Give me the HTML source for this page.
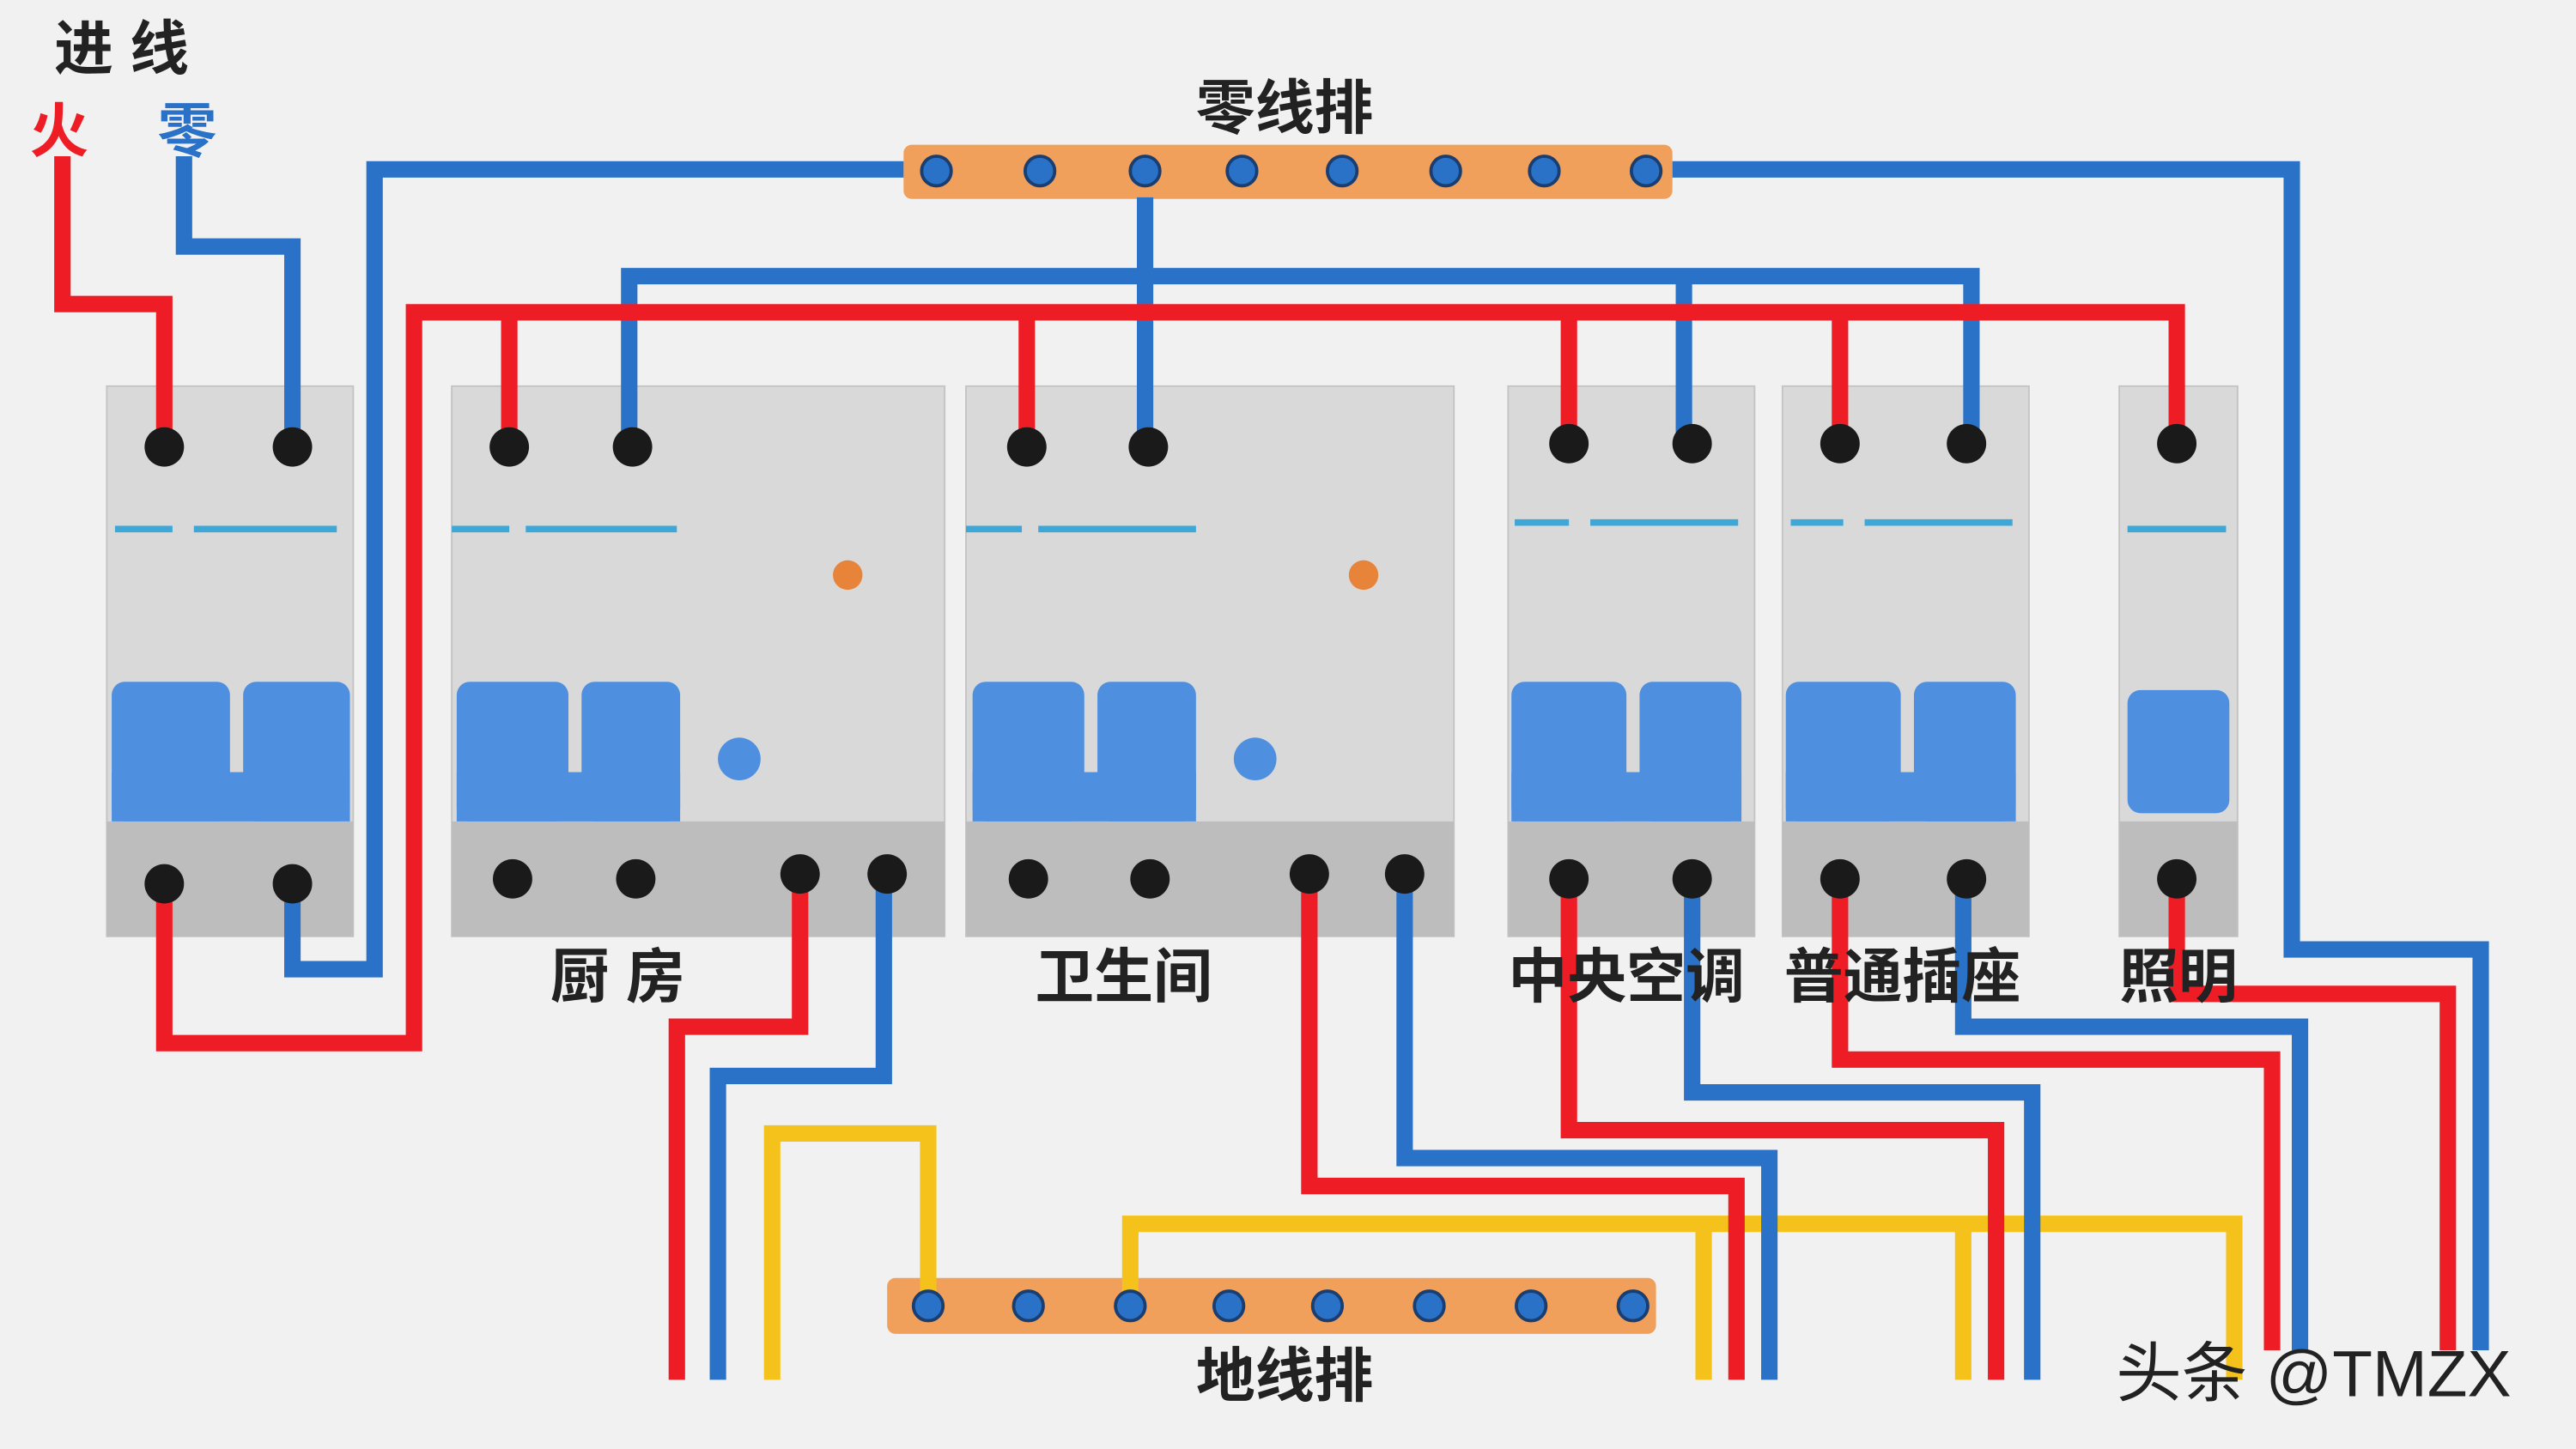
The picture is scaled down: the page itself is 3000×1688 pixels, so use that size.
<!DOCTYPE html>
<html><head><meta charset="utf-8"><style>
html,body{margin:0;padding:0;background:#f1f1f1;}
svg{display:block;}
text{font-family:"Liberation Sans","Noto Sans CJK SC",sans-serif;font-weight:bold;}
</style></head><body>
<svg width="3000" height="1688" viewBox="0 0 1568 882" xmlns="http://www.w3.org/2000/svg">
<rect width="1568" height="882" fill="#f1f1f1"/>
<g fill="#d9d9d9" stroke="#c4c4c4">
<rect x="65" y="235" width="150" height="335"/>
<rect x="275" y="235" width="300" height="335"/>
<rect x="588" y="235" width="297" height="335"/>
<rect x="918" y="235" width="150" height="335"/>
<rect x="1085" y="235" width="150" height="335"/>
<rect x="1290" y="235" width="72" height="335"/>
</g>
<g fill="#bdbdbd">
<rect x="65" y="500" width="150" height="70"/>
<rect x="275" y="500" width="300" height="70"/>
<rect x="588" y="500" width="297" height="70"/>
<rect x="918" y="500" width="150" height="70"/>
<rect x="1085" y="500" width="150" height="70"/>
<rect x="1290" y="500" width="72" height="70"/>
</g>
<g stroke="#3da8d8" stroke-width="4">
<line x1="70" y1="322" x2="105" y2="322"/><line x1="118" y1="322" x2="205" y2="322"/>
<line x1="275" y1="322" x2="310" y2="322"/><line x1="320" y1="322" x2="412" y2="322"/>
<line x1="588" y1="322" x2="622" y2="322"/><line x1="632" y1="322" x2="728" y2="322"/>
<line x1="922" y1="318" x2="955" y2="318"/><line x1="968" y1="318" x2="1058" y2="318"/>
<line x1="1090" y1="318" x2="1122" y2="318"/><line x1="1135" y1="318" x2="1225" y2="318"/>
<line x1="1295" y1="322" x2="1355" y2="322"/>
</g>
<g fill="#4f8fe0">
<rect x="68" y="415" width="72" height="85" rx="8"/><rect x="148" y="415" width="65" height="85" rx="8"/>
<rect x="278" y="415" width="68" height="85" rx="8"/><rect x="354" y="415" width="60" height="85" rx="8"/>
<rect x="592" y="415" width="68" height="85" rx="8"/><rect x="668" y="415" width="60" height="85" rx="8"/>
<rect x="920" y="415" width="70" height="85" rx="8"/><rect x="998" y="415" width="62" height="85" rx="8"/>
<rect x="1087" y="415" width="70" height="85" rx="8"/><rect x="1165" y="415" width="62" height="85" rx="8"/>
<rect x="1295" y="420" width="62" height="75" rx="8"/>
<circle cx="450" cy="462" r="13"/><circle cx="764" cy="462" r="13"/>
<rect x="68" y="470" width="145" height="30"/><rect x="278" y="470" width="136" height="30"/>
<rect x="592" y="470" width="136" height="30"/><rect x="920" y="470" width="140" height="30"/>
<rect x="1087" y="470" width="140" height="30"/>
</g>
<circle cx="516" cy="350" r="9" fill="#e8843a"/><circle cx="830" cy="350" r="9" fill="#e8843a"/>
<rect x="550" y="88" width="468" height="33" rx="5" fill="#f0a05a"/>
<rect x="540" y="778" width="468" height="34" rx="5" fill="#f0a05a"/>
<g fill="none" stroke-width="10" stroke-linejoin="miter">
<g stroke="#f4c21a">
<polyline points="470,840 470,690 565,690 565,790"/>
<polyline points="688,790 688,745 1360,745 1360,840"/>
<polyline points="1037,745 1037,840"/>
<polyline points="1195,745 1195,840"/>
</g>
<g stroke="#2a72c8">
<polyline points="112,95 112,150 178,150 178,270"/>
<polyline points="178,535 178,590 228,590 228,103 550,103"/>
<polyline points="1018,103 1395,103 1395,578 1510,578 1510,822"/>
<polyline points="697,120 697,270"/>
<polyline points="383,270 383,168 1200,168 1200,270"/>
<polyline points="1025,168 1025,270"/>
<polyline points="538,535 538,655 437,655 437,840"/>
<polyline points="855,535 855,705 1077,705 1077,840"/>
<polyline points="1030,535 1030,665 1237,665 1237,840"/>
<polyline points="1195,535 1195,625 1400,625 1400,822"/>
</g>
<g stroke="#ee1c25">
<polyline points="38,95 38,185 100,185 100,270"/>
<polyline points="100,535 100,635 252,635 252,190 1325,190 1325,270"/>
<polyline points="310,190 310,270"/><polyline points="625,190 625,270"/>
<polyline points="955,190 955,270"/><polyline points="1120,190 1120,270"/>
<polyline points="487,535 487,625 412,625 412,840"/>
<polyline points="797,535 797,722 1057,722 1057,840"/>
<polyline points="955,535 955,688 1215,688 1215,840"/>
<polyline points="1120,535 1120,645 1383,645 1383,822"/>
<polyline points="1325,535 1325,605 1490,605 1490,822"/>
</g>
</g>
<g fill="#2a72c8" stroke="#1a3e70" stroke-width="2">
<circle cx="570" cy="104" r="9"/><circle cx="633" cy="104" r="9"/><circle cx="697" cy="104" r="9"/><circle cx="756" cy="104" r="9"/><circle cx="817" cy="104" r="9"/><circle cx="880" cy="104" r="9"/><circle cx="940" cy="104" r="9"/><circle cx="1002" cy="104" r="9"/>
<circle cx="565" cy="795" r="9"/><circle cx="626" cy="795" r="9"/><circle cx="688" cy="795" r="9"/><circle cx="748" cy="795" r="9"/><circle cx="808" cy="795" r="9"/><circle cx="870" cy="795" r="9"/><circle cx="932" cy="795" r="9"/><circle cx="994" cy="795" r="9"/>
</g>
<g fill="#1a1a1a">
<circle cx="100" cy="272" r="12"/><circle cx="178" cy="272" r="12"/>
<circle cx="310" cy="272" r="12"/><circle cx="385" cy="272" r="12"/>
<circle cx="625" cy="272" r="12"/><circle cx="699" cy="272" r="12"/>
<circle cx="955" cy="270" r="12"/><circle cx="1030" cy="270" r="12"/>
<circle cx="1120" cy="270" r="12"/><circle cx="1197" cy="270" r="12"/>
<circle cx="1325" cy="270" r="12"/>
<circle cx="100" cy="538" r="12"/><circle cx="178" cy="538" r="12"/>
<circle cx="312" cy="535" r="12"/><circle cx="387" cy="535" r="12"/><circle cx="487" cy="532" r="12"/><circle cx="540" cy="532" r="12"/>
<circle cx="626" cy="535" r="12"/><circle cx="700" cy="535" r="12"/><circle cx="797" cy="532" r="12"/><circle cx="855" cy="532" r="12"/>
<circle cx="955" cy="535" r="12"/><circle cx="1030" cy="535" r="12"/>
<circle cx="1120" cy="535" r="12"/><circle cx="1197" cy="535" r="12"/>
<circle cx="1325" cy="535" r="12"/>
</g>
<g font-size="36" fill="#222">
<text x="33" y="42">进 线</text>
<text x="728" y="78">零线排</text>
<text x="728" y="850">地线排</text>
<text x="335" y="607">厨 房</text>
<text x="630" y="607">卫生间</text>
<text x="918" y="607">中央空调</text>
<text x="1086" y="607">普通插座</text>
<text x="1290" y="607">照明</text>
</g>
<text x="18" y="92" font-size="36" fill="#ee1c25">火</text>
<text x="96" y="92" font-size="36" fill="#2a72c8">零</text>
<text x="1288" y="850" font-size="40" fill="#222" style="font-weight:normal">头条 @TMZX</text>
</svg>
</body></html>
